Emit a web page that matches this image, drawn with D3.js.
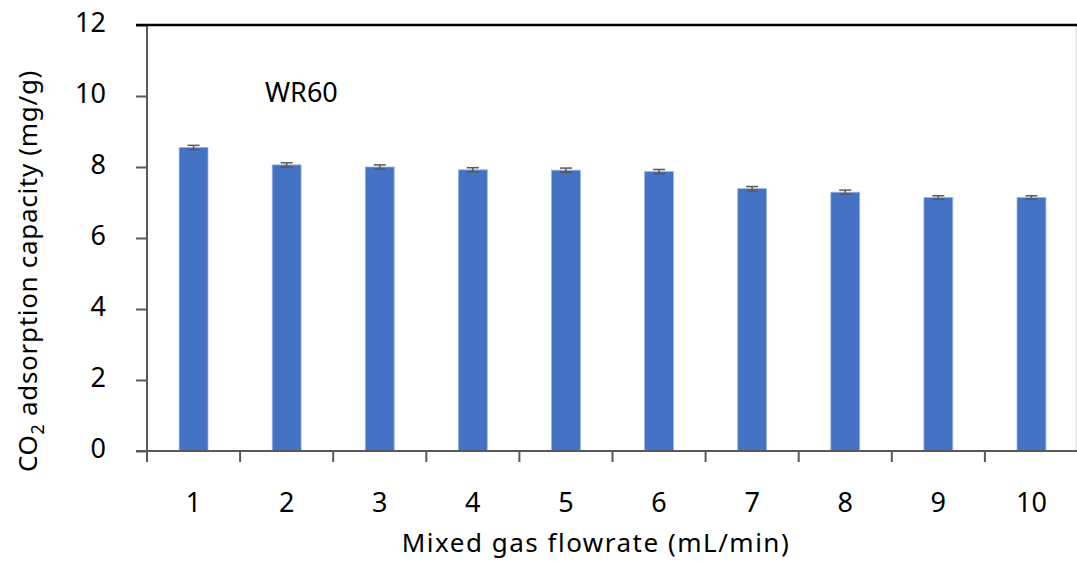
<!DOCTYPE html>
<html>
<head>
<meta charset="utf-8">
<script src="https://cdn.jsdelivr.net/npm/d3@7"></script>
<style>
  html, body { margin: 0; padding: 0; background: #fff; }
  svg { display: block; }
  text { font-family: "Noto Sans", sans-serif; fill: #000; }
</style>
</head>
<body>
<svg id="chart" width="1077" height="562"></svg>
<script>
const categories = ["1", "2", "3", "4", "5", "6", "7", "8", "9", "10"];
const values = [8.55, 8.06, 8.00, 7.92, 7.91, 7.87, 7.39, 7.29, 7.14, 7.14];
const errors = [0.06, 0.06, 0.06, 0.06, 0.06, 0.06, 0.06, 0.06, 0.05, 0.05];
const yTicks = [0, 2, 4, 6, 8, 10, 12];
const seriesLabel = "WR60";
const xTitle = "Mixed gas flowrate (mL/min)";

const svg = d3.select("#chart");
const mLeft = 147, mRight = 1078, mTop = 25, mBottom = 451;

const x = d3.scaleBand().domain(categories).range([mLeft, mRight]).paddingInner(0.69).paddingOuter(0.345);
const y = d3.scaleLinear().domain([0, 12]).range([mBottom, mTop]);

// right border (light)
svg.append("line").attr("x1", 1076).attr("x2", 1076).attr("y1", mTop).attr("y2", mBottom)
  .attr("stroke", "#d9d9d9").attr("stroke-width", 1);

// bars
svg.append("g").selectAll("rect").data(values).join("rect")
  .attr("x", (d, i) => x(categories[i]))
  .attr("y", d => y(d))
  .attr("width", x.bandwidth())
  .attr("height", d => y(0) - y(d))
  .attr("fill", "#4472C4")
  .attr("stroke", "#9bb4e0")
  .attr("stroke-width", 0.8);

// error bars
const eg = svg.append("g").attr("stroke", "#595959").attr("stroke-width", 1.5);
values.forEach((v, i) => {
  const cx = x(categories[i]) + x.bandwidth() / 2;
  const y1 = y(v + errors[i]), y2 = y(v - errors[i]);
  eg.append("line").attr("x1", cx).attr("x2", cx).attr("y1", y1).attr("y2", y2);
  eg.append("line").attr("x1", cx - 6).attr("x2", cx + 6).attr("y1", y1).attr("y2", y1);
  eg.append("line").attr("x1", cx - 6).attr("x2", cx + 6).attr("y1", y2).attr("y2", y2);
});

// y axis
const yAxis = d3.axisLeft(y).tickValues(yTicks).tickSize(11).tickPadding(30).tickFormat(d3.format("d"));
const ya = svg.append("g").attr("transform", `translate(${mLeft},0)`).call(yAxis);
ya.select(".domain").attr("stroke", "#595959").attr("stroke-width", 2).attr("d", `M0,${mTop}V${mBottom}`);
ya.selectAll(".tick line").attr("stroke", "#595959").attr("stroke-width", 2);
ya.selectAll(".tick text").attr("font-size", 27).attr("font-family", "Noto Sans").attr("fill", "#000")
  .attr("y", -3).attr("dy", "0.35em");

// x axis
const xBoundaries = categories.map(c => x(c) - x.step() * x.paddingInner() / 2);
const xa = svg.append("g").attr("transform", `translate(0,${mBottom})`);
xa.append("line").attr("x1", mLeft - 11).attr("x2", mRight).attr("y1", 0).attr("y2", 0)
  .attr("stroke", "#595959").attr("stroke-width", 2);
xa.selectAll("line.tk").data(xBoundaries).join("line").attr("class", "tk")
  .attr("x1", d => d).attr("x2", d => d).attr("y1", 0).attr("y2", 11)
  .attr("stroke", "#595959").attr("stroke-width", 2);
xa.selectAll("text").data(categories).join("text")
  .attr("x", d => x(d) + x.bandwidth() / 2)
  .attr("y", 61)
  .attr("text-anchor", "middle")
  .attr("font-size", 27)
  .text(d => d);

// top border
svg.append("line").attr("x1", mLeft - 11).attr("x2", 1077).attr("y1", mTop).attr("y2", mTop)
  .attr("stroke", "#000").attr("stroke-width", 2.5);

// series label
svg.append("text").attr("x", 265).attr("y", 102).attr("font-size", 27).text(seriesLabel);

// x title
svg.append("text").attr("x", 596).attr("y", 552).attr("text-anchor", "middle").attr("font-size", 26)
  .attr("letter-spacing", 1.5).text(xTitle);

// y title
const yt = svg.append("text").attr("transform", "translate(37,271) rotate(-90)")
  .attr("text-anchor", "middle").attr("font-size", 26).attr("letter-spacing", 0.7);
yt.append("tspan").text("CO");
yt.append("tspan").attr("font-size", 18).attr("dy", 7).text("2");
yt.append("tspan").attr("dy", -7).text(" adsorption capacity (mg/g)");
</script>
</body>
</html>
